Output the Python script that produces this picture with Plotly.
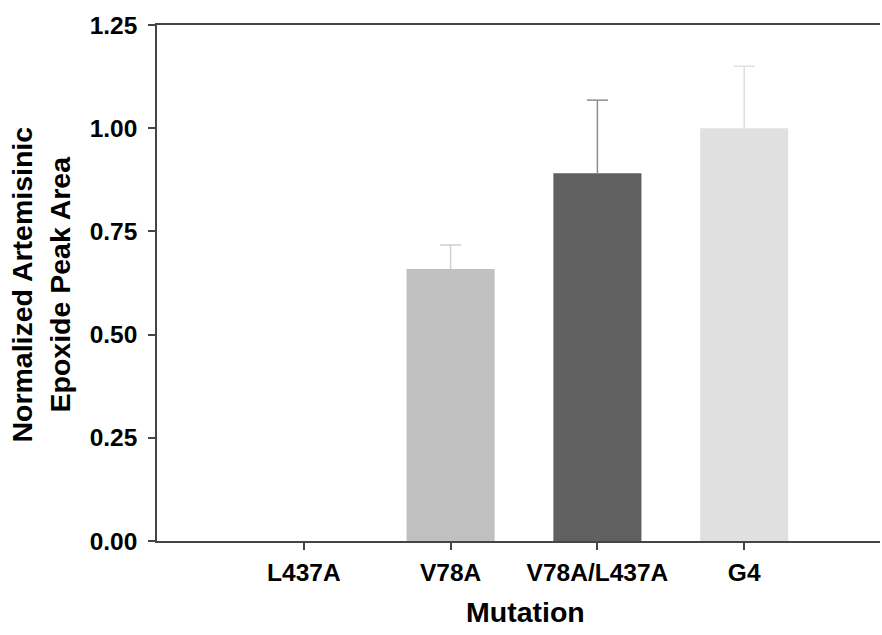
import plotly.graph_objects as go

categories = ["L437A", "V78A", "V78A/L437A", "G4"]
values = [0.0, 0.659, 0.891, 1.0]
errors = [0.0, 0.058, 0.177, 0.15]
bar_colors = ["#c0c0c0", "#c0c0c0", "#606060", "#e0e0e0"]
err_colors = ["#d0d0d0", "#d0d0d0", "#8c8c8c", "#dedede"]
y_ticks = [0.0, 0.25, 0.5, 0.75, 1.0, 1.25]
y_ticktext = ["0.00", "0.25", "0.50", "0.75", "1.00", "1.25"]

FONT = "Liberation Sans, Arial, sans-serif"
AX = "#454545"

fig = go.Figure()
for c, v, e, bc, ec in zip(categories, values, errors, bar_colors, err_colors):
    fig.add_trace(go.Bar(
        x=[c], y=[v], width=0.6, marker=dict(color=bc, line=dict(width=0)),
        error_y=dict(type="data", symmetric=False, array=[e], arrayminus=[0],
                     color=ec, thickness=1.5, width=0, visible=e > 0),
        showlegend=False, hoverinfo="skip"))
    if e > 0:
        fig.add_trace(go.Scatter(
            x=[c], y=[v + e], mode="markers",
            marker=dict(symbol="line-ew-open", size=15, color=ec,
                        line=dict(color=ec, width=1.5)),
            showlegend=False, hoverinfo="skip"))

fig.update_layout(
    width=882, height=635,
    margin=dict(l=157, r=2, t=25, b=94),
    plot_bgcolor="white", paper_bgcolor="white",
    font=dict(family=FONT, color="black"),
    xaxis=dict(type="category", categoryorder="array", categoryarray=categories,
               range=[-1, 3.925], showgrid=False, zeroline=False,
               showline=True, linecolor=AX, linewidth=1.5, mirror=True,
               ticks="outside", ticklen=7, tickcolor=AX, tickwidth=1.5,
               ticklabelstandoff=2,
               tickfont=dict(size=24.5, family=FONT, weight="bold")),
    yaxis=dict(range=[0, 1.25], tickvals=y_ticks, ticktext=y_ticktext,
               showgrid=False, zeroline=False,
               showline=True, linecolor=AX, linewidth=1.5,
               ticks="outside", ticklen=7, tickcolor=AX, tickwidth=1.5,
               ticklabelstandoff=6,
               tickfont=dict(size=24.5, family=FONT, weight="bold")),
    annotations=[
        dict(text="Mutation", xref="paper", yref="paper", x=0.509, y=-0.1376,
             xanchor="center", yanchor="middle", showarrow=False,
             font=dict(size=28.5, family=FONT, weight="bold")),
        dict(text="Normalized Artemisinic<br>Epoxide Peak Area", xref="paper", yref="paper",
             x=-0.1611, y=0.496, xanchor="center", yanchor="middle", textangle=-90,
             showarrow=False, font=dict(size=28.5, family=FONT, weight="bold")),
    ],
)

fig.write_html("out.html")
